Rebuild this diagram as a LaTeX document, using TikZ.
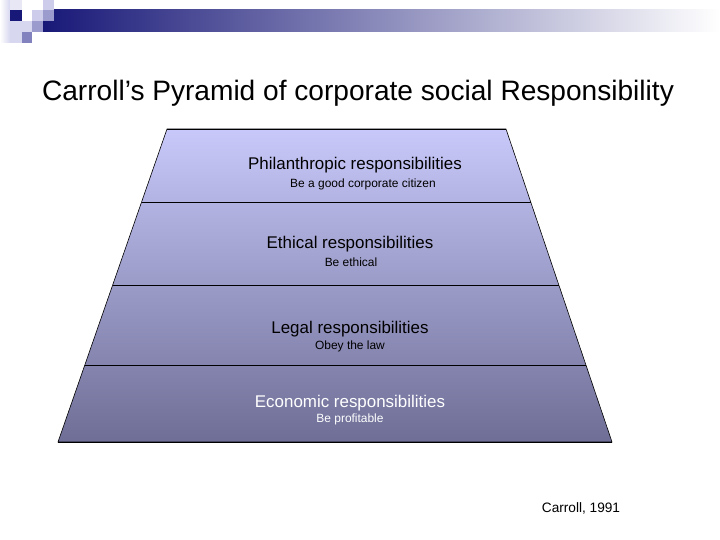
\documentclass[tikz,border=0pt]{standalone}
\usepackage{fontspec}
\setmainfont{Liberation Sans}
\usetikzlibrary{calc}
\definecolor{navy}{RGB}{24,24,120}
\definecolor{barmid}{RGB}{185,185,205}
\definecolor{sqlight}{RGB}{205,205,235}
\definecolor{sqmed}{RGB}{155,155,205}
\definecolor{sqdark}{RGB}{130,130,190}
\definecolor{fadel}{RGB}{215,215,240}
\definecolor{pyrtop}{RGB}{200,200,250}
\definecolor{pyrbot}{RGB}{110,110,150}
\tikzset{
  mainlbl/.style={font=\fontsize{17}{19}\selectfont, inner sep=0pt, anchor=center},
  sublbl/.style={font=\fontsize{12}{14}\selectfont, inner sep=0pt, anchor=center},
  divline/.style={draw=black, line width=0.9pt},
  sq/.style={draw=none}
}
\begin{document}
\begin{tikzpicture}[x=1bp,y=-1bp]
\useasboundingbox (0,0) rectangle (720,540);
\fill[white] (0,0) rectangle (720,540);
% header decoration
\shade[left color=navy, middle color=barmid, right color=white] (43,10) rectangle (720,32);
\shade[left color=white, right color=fadel] (0,0) rectangle (10,43);
\fill[fadel!60!white] (10,0) rectangle (22,10);
\fill[fadel] (10,21) rectangle (22,43);
\fill[navy] (10,10) rectangle (22,21);
\fill[sqlight] (32,10) rectangle (43,21);
\fill[sqlight] (43,0) rectangle (54,10);
\fill[sqmed] (43,10) rectangle (54,21);
\fill[fadel] (22,21) rectangle (32,32);
\fill[sqmed] (32,21) rectangle (43,32);
\fill[sqdark] (22,32) rectangle (32,43);
% title
\node[font=\fontsize{28.2}{32}\selectfont, inner sep=0pt] (title) at (358,93) {Carroll’s Pyramid of corporate social Responsibility};
% pyramid
\coordinate (T1) at (167,129);
\coordinate (T2) at (506,129);
\coordinate (B1) at (58,442);
\coordinate (B2) at (612,442);
\shade[top color=pyrtop, bottom color=pyrbot, draw=black, line width=0.6pt] (T1) -- (T2) -- (B2) -- (B1) -- cycle;
\coordinate (L1) at ($(T1)!0.2332!(B1)$);
\coordinate (R1) at ($(T2)!0.2332!(B2)$);
\coordinate (L2) at ($(T1)!0.4984!(B1)$);
\coordinate (R2) at ($(T2)!0.4984!(B2)$);
\coordinate (L3) at ($(T1)!0.7540!(B1)$);
\coordinate (R3) at ($(T2)!0.7540!(B2)$);
\draw[divline] (T1) -- (T2);
\draw[divline] (B1) -- (B2);
\draw[divline] (L1) -- (R1);
\draw[divline] (L2) -- (R2);
\draw[divline] (L3) -- (R3);
% labels
\node[mainlbl] (phil) at (355,165.5) {Philanthropic responsibilities};
\node[sublbl] (philsub) at (363,184) {Be a good corporate citizen};
\node[mainlbl] (eth) at (350,244.5) {Ethical responsibilities};
\node[sublbl] (ethsub) at (351,262) {Be ethical};
\node[mainlbl] (leg) at (350,329.5) {Legal responsibilities};
\node[sublbl] (legsub) at (350,346) {Obey the law};
\node[mainlbl, text=white] (eco) at (350,403.5) {Economic responsibilities};
\node[sublbl, text=white] (ecosub) at (350,419) {Be profitable};
\node[font=\fontsize{13.7}{16}\selectfont, inner sep=0pt] (cite) at (581,508) {Carroll, 1991};
\end{tikzpicture}
\end{document}
